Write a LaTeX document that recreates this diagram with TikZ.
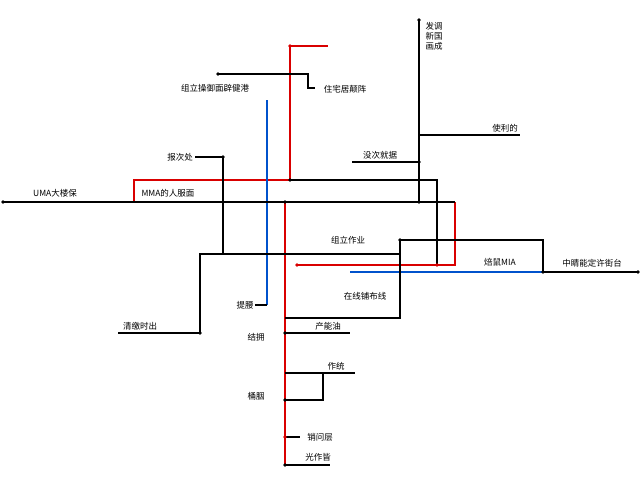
\documentclass[tikz,border=0pt]{standalone}
\usepackage{fontspec}
\newfontfamily\cjk{Noto Sans CJK SC}
\begin{document}
\begin{tikzpicture}[x=1pt,y=-1pt,
 k/.style={black,line width=1.2pt},
 r/.style={red!85!black,line width=1.2pt},
 b/.style={blue!60!cyan!80!black,line width=1.1pt},
 d/.style={circle,fill,inner sep=1.4pt},
 t/.style={font=\cjk\fontsize{8.5}{10}\selectfont,inner sep=1pt,align=left}]
\useasboundingbox (0,0) rectangle (640,480);
\foreach \n/\x/\y in {a/3/202,b/285/202,c/419/202,e/455/202,f/455/265,g/297/265,h/437/265,
 i/290/180,j/437/180,k/290/46,l/328/46,m/134/180,n/134/202,o/285/465,p/419/20,
 q/400/240,s/543/240,u/543/272,v/350/272,w/638/272,x/400/318,y/285/318,
 z/200/254,z2/400/254,A/200/333,B/118/333,C/223/157,D/195/157,E/223/254,
 F/218/74,G/308/74,H/308/88,I/315/88,J/267/100,K/267/305,L/255/305,
 M/419/135,N/520/135,O/352/162,P/419/162,Q/285/333,R/350/333,S/285/373,T/355/373,
 U/323/373,V/323/400,W/285/400,X/285/437,Y/300/437,Z/330/465}
 {\coordinate (\n) at (\x,\y);}
\draw[r] (k)--(l); \draw[r] (k)--(i);
\draw[r] (n)--(m)--(i);
\draw[r] (b)--(o);
\draw[r] (e)--(f)--(g);
\draw[b] (J)--(K); \draw[k] (K)--(L);
\draw[b] (v)--(u);
\draw[k] (a)--(e);
\draw[k] (i)--(j)--(h);
\draw[k] (p)--(c);
\draw[k] (M)--(N); \draw[k] (O)--(P);
\draw[k] (q)--(s)--(u)--(w);
\draw[k] (q)--(x)--(y);
\draw[k] (z2)--(z)--(A)--(B);
\draw[k] (D)--(C)--(E);
\draw[k] (F)--(G)--(H)--(I);
\draw[k] (Q)--(R);
\draw[k] (S)--(T); \draw[k] (U)--(V)--(W);
\draw[k] (X)--(Y); \draw[k] (o)--(Z);
\foreach \n in {a,b,c,i,q,u,w,p,A,C,F,P,Q,W,o} \node[d] at (\n) {};
\foreach \n in {g,h,k,X} \node[d,red!85!black] at (\n) {};
\node[t] (t1) at (55,193) {UMA大楼保};
\node[t] (t2) at (168,193) {MMA的人服面};
\node[t] (t3) at (215,88) {组立操御面辟健港};
\node[t] (t4) at (345,89) {住宅居颠阵};
\node[t] (t5) at (434,36) {发调\\ 新国\\ 画成};
\node[t] (t6) at (505,128) {使利的};
\node[t] (t7) at (380,155) {没次就据};
\node[t] (t8) at (180,157) {报次处};
\node[t] (t9) at (348,240) {组立作业};
\node[t] (t10) at (500,262) {焙鼠MIA};
\node[t] (t11) at (592,263) {中睛能定许街台};
\node[t] (t12) at (365,296) {在线铺布线};
\node[t] (t13) at (245,305) {提腰};
\node[t] (t14) at (140,326) {清缴时出};
\node[t] (t15) at (256,337) {结拥};
\node[t] (t16) at (328,326) {产能油};
\node[t] (t17) at (336,366) {作统};
\node[t] (t18) at (256,396) {桶胭};
\node[t] (t19) at (320,437) {销问层};
\node[t] (t20) at (318,457) {光作皆};
\end{tikzpicture}
\end{document}
